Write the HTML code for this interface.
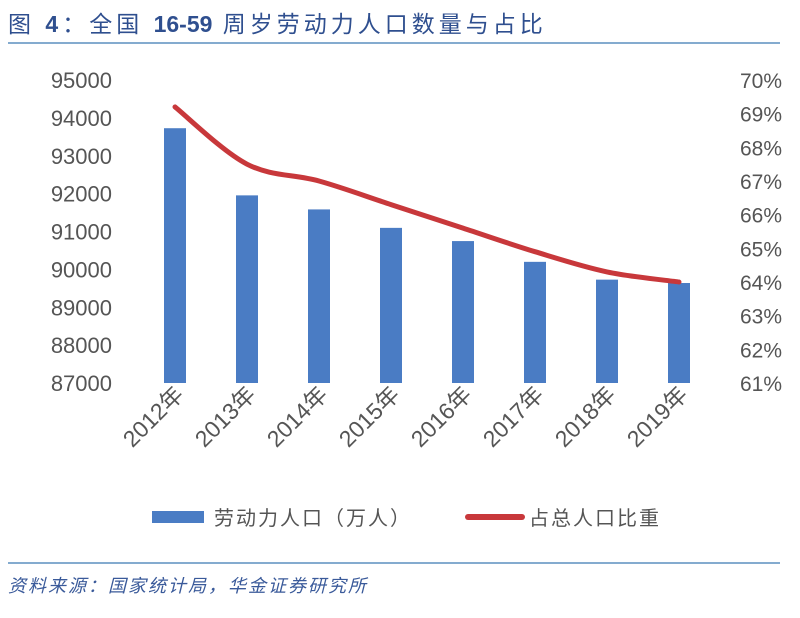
<!DOCTYPE html>
<html><head><meta charset="utf-8"><style>
body{margin:0;background:#fff;width:800px;height:613px;overflow:hidden;font-family:"Liberation Sans","Noto Sans CJK SC",sans-serif}
</style></head><body>
<svg width="800" height="613" viewBox="0 0 800 613">
<text x="8" y="32" font-size="23" letter-spacing="4" fill="#2f4f8f">图 <tspan font-weight="bold">4</tspan>：全国 <tspan font-weight="bold" letter-spacing="0">16-59</tspan> 周岁劳动力人口数量与占比</text>
<line x1="8" y1="43" x2="780" y2="43" stroke="#5b8fbf" stroke-width="1.5"/>
<g id="plot"></g>
<g>
<rect x="152" y="511" width="52" height="12" fill="#4a7cc4"/>
<text x="214" y="525" font-size="20" letter-spacing="2" fill="#555">劳动力人口（万人）</text>
<line x1="468" y1="517" x2="522" y2="517" stroke="#c8383b" stroke-width="6" stroke-linecap="round"/>
<text x="529" y="525" font-size="20" letter-spacing="2" fill="#555">占总人口比重</text>
</g>
<line x1="8" y1="563" x2="780" y2="563" stroke="#5b8fbf" stroke-width="1.5"/>
<text x="8" y="592" font-size="18" letter-spacing="2" font-style="italic" fill="#3a5a9a">资料来源：国家统计局，华金证券研究所</text>
</svg>
<script>
const categories=["2012年","2013年","2014年","2015年","2016年","2017年","2018年","2019年"];
const laborValues=[93727,91954,91583,91096,90747,90199,89729,89640];
const shareValues=[69.2,67.5,67.0,66.3,65.6,64.9,64.3,64.0];
const leftTicks=[87000,88000,89000,90000,91000,92000,93000,94000,95000];
const rightTicks=[61,62,63,64,65,66,67,68,69,70];
const NS="http://www.w3.org/2000/svg";
const plotG=document.getElementById('plot');
const yTop=80,yBot=383,xLeft=139,xRight=715;
const yL=v=>yBot-(v-87000)/8000*(yBot-yTop);
const yR=v=>yBot-(v-61)/9*(yBot-yTop);
const step=(xRight-xLeft)/categories.length;
const xC=i=>xLeft+step*(i+0.5);
function mk(t,a,txt){const e=document.createElementNS(NS,t);for(const k in a)e.setAttribute(k,a[k]);if(txt!=null)e.textContent=txt;plotG.appendChild(e);return e;}
leftTicks.forEach(v=>{const e=mk('text',{x:112,y:yL(v)+8,'font-size':22,fill:'#555','text-anchor':'end'},v);

});
rightTicks.forEach(v=>{const e=mk('text',{x:782,y:yR(v)+8,'font-size':21,fill:'#555','text-anchor':'end'},v+'%');

});
laborValues.forEach((v,i)=>{const e=mk('rect',{x:xC(i)-11,y:yL(v),width:22,height:yBot-yL(v),fill:'#4a7cc4'});

});
categories.forEach((c,i)=>{const x=xC(i)+10,y=396;const e=mk('text',{x:x,y:y,'font-size':23,fill:'#555','text-anchor':'end',transform:`rotate(-45 ${x} ${y})`},c);

});
const pts=shareValues.map((v,i)=>[xC(i),yR(v)]);
let d=`M${pts[0][0]},${pts[0][1]}`;
for(let i=0;i<pts.length-1;i++){const p0=pts[i-1]||pts[i],p1=pts[i],p2=pts[i+1],p3=pts[i+2]||p2;
d+=` C${p1[0]+(p2[0]-p0[0])/6},${p1[1]+(p2[1]-p0[1])/6} ${p2[0]-(p3[0]-p1[0])/6},${p2[1]-(p3[1]-p1[1])/6} ${p2[0]},${p2[1]}`;}
const ln=mk('path',{d:d,fill:'none',stroke:'#c8383b','stroke-width':5,'stroke-linecap':'round'});


</script>
</body></html>
